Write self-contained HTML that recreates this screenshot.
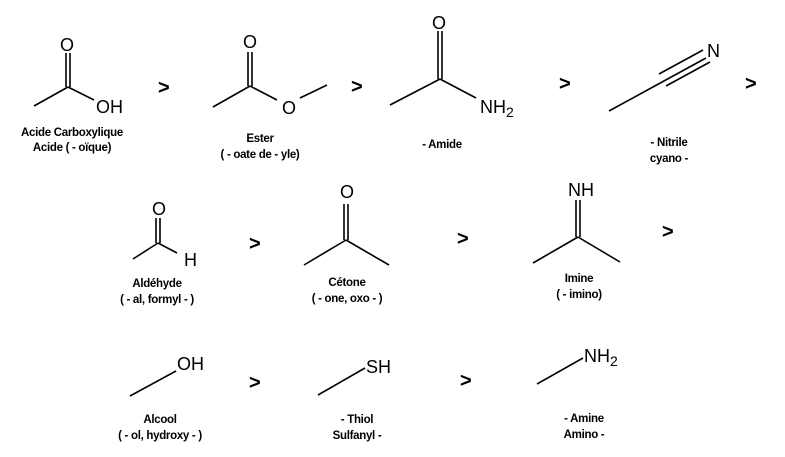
<!DOCTYPE html>
<html><head><meta charset="utf-8"><style>
html,body{margin:0;padding:0;background:#fff;width:785px;height:457px;overflow:hidden}
svg{display:block}
.a{font-family:"Liberation Sans",sans-serif;font-size:18px;fill:#000}
.l{font-family:"Liberation Sans",sans-serif;font-size:11.5px;font-weight:bold;fill:#000;text-anchor:middle;letter-spacing:-0.3px}
.g{font-family:"Liberation Sans",sans-serif;font-size:20px;font-weight:bold;fill:#000}
line{stroke:#000;stroke-width:1.6}
</style></head><body>
<svg width="785" height="457" viewBox="0 0 785 457">
<!-- Acid -->
<line x1="34" y1="106" x2="68" y2="87"/><line x1="66" y1="87" x2="66" y2="53"/><line x1="70" y1="87" x2="70" y2="53"/>
<line x1="68" y1="87" x2="94" y2="100"/>
<text class="a" x="60" y="51">O</text><text class="a" x="96" y="113">OH</text>
<text class="l" x="72" y="136">Acide Carboxylique</text><text class="l" x="72" y="151">Acide ( - oïque)</text>
<text class="g" x="158" y="94">&gt;</text>
<!-- Ester -->
<line x1="213" y1="107" x2="250" y2="86"/><line x1="248" y1="86" x2="248" y2="52"/><line x1="252" y1="86" x2="252" y2="52"/>
<line x1="250" y1="86" x2="277" y2="100"/><line x1="300" y1="98" x2="327" y2="85"/>
<text class="a" x="243" y="48">O</text><text class="a" x="282" y="114">O</text>
<text class="l" x="260" y="142">Ester</text><text class="l" x="260" y="158">( - oate de - yle)</text>
<text class="g" x="351" y="93">&gt;</text>
<!-- Amide -->
<line x1="390" y1="105" x2="440" y2="79"/><line x1="438" y1="79" x2="438" y2="31"/><line x1="442" y1="79" x2="442" y2="31"/>
<line x1="440" y1="79" x2="476" y2="98"/>
<text class="a" x="432" y="29">O</text>
<text class="a" x="480" y="113">NH<tspan font-size="14" dy="4">2</tspan></text>
<text class="l" x="442" y="148">- Amide</text>
<text class="g" x="559" y="90">&gt;</text>
<!-- Nitrile -->
<line x1="609" y1="111" x2="706" y2="58"/>
<line x1="659" y1="74" x2="703" y2="50"/><line x1="666" y1="86" x2="710" y2="62"/>
<text class="a" x="707" y="57">N</text>
<text class="l" x="669" y="146">- Nitrile</text><text class="l" x="669" y="162">cyano -</text>
<text class="g" x="745" y="90">&gt;</text>
<!-- Aldehyde -->
<line x1="133" y1="259" x2="158" y2="243"/><line x1="156" y1="243" x2="156" y2="218"/><line x1="160" y1="243" x2="160" y2="218"/>
<line x1="158" y1="243" x2="177" y2="253"/>
<text class="a" x="152" y="215">O</text><text class="a" x="184" y="266">H</text>
<text class="l" x="157" y="287">Aldéhyde</text><text class="l" x="157" y="303">( - al, formyl - )</text>
<text class="g" x="249" y="250">&gt;</text>
<!-- Cetone -->
<line x1="304" y1="265" x2="346" y2="240"/><line x1="346" y1="240" x2="389" y2="265"/>
<line x1="344" y1="240" x2="344" y2="204"/><line x1="348" y1="240" x2="348" y2="204"/>
<text class="a" x="340" y="198">O</text>
<text class="l" x="347" y="286">Cétone</text><text class="l" x="347" y="302">( - one, oxo - )</text>
<text class="g" x="457" y="245">&gt;</text>
<!-- Imine -->
<line x1="533" y1="263" x2="578" y2="237"/><line x1="578" y1="237" x2="620" y2="262"/>
<line x1="576" y1="237" x2="576" y2="200"/><line x1="580" y1="237" x2="580" y2="200"/>
<text class="a" x="568" y="196">NH</text>
<text class="l" x="579" y="282">Imine</text><text class="l" x="579" y="298">( - imino)</text>
<text class="g" x="662" y="238">&gt;</text>
<!-- Alcool -->
<line x1="130" y1="396" x2="176" y2="371"/>
<text class="a" x="177" y="370">OH</text>
<text class="l" x="160" y="423">Alcool</text><text class="l" x="160" y="439">( - ol, hydroxy - )</text>
<text class="g" x="249" y="389">&gt;</text>
<!-- Thiol -->
<line x1="318" y1="395" x2="365" y2="368"/>
<text class="a" x="366" y="373">SH</text>
<text class="l" x="357" y="423">- Thiol</text><text class="l" x="357" y="439">Sulfanyl -</text>
<text class="g" x="460" y="387">&gt;</text>
<!-- Amine -->
<line x1="537" y1="384" x2="583" y2="358"/>
<text class="a" x="584" y="362">NH<tspan font-size="14" dy="4">2</tspan></text>
<text class="l" x="584" y="422">- Amine</text><text class="l" x="584" y="438">Amino -</text>
</svg>
</body></html>
